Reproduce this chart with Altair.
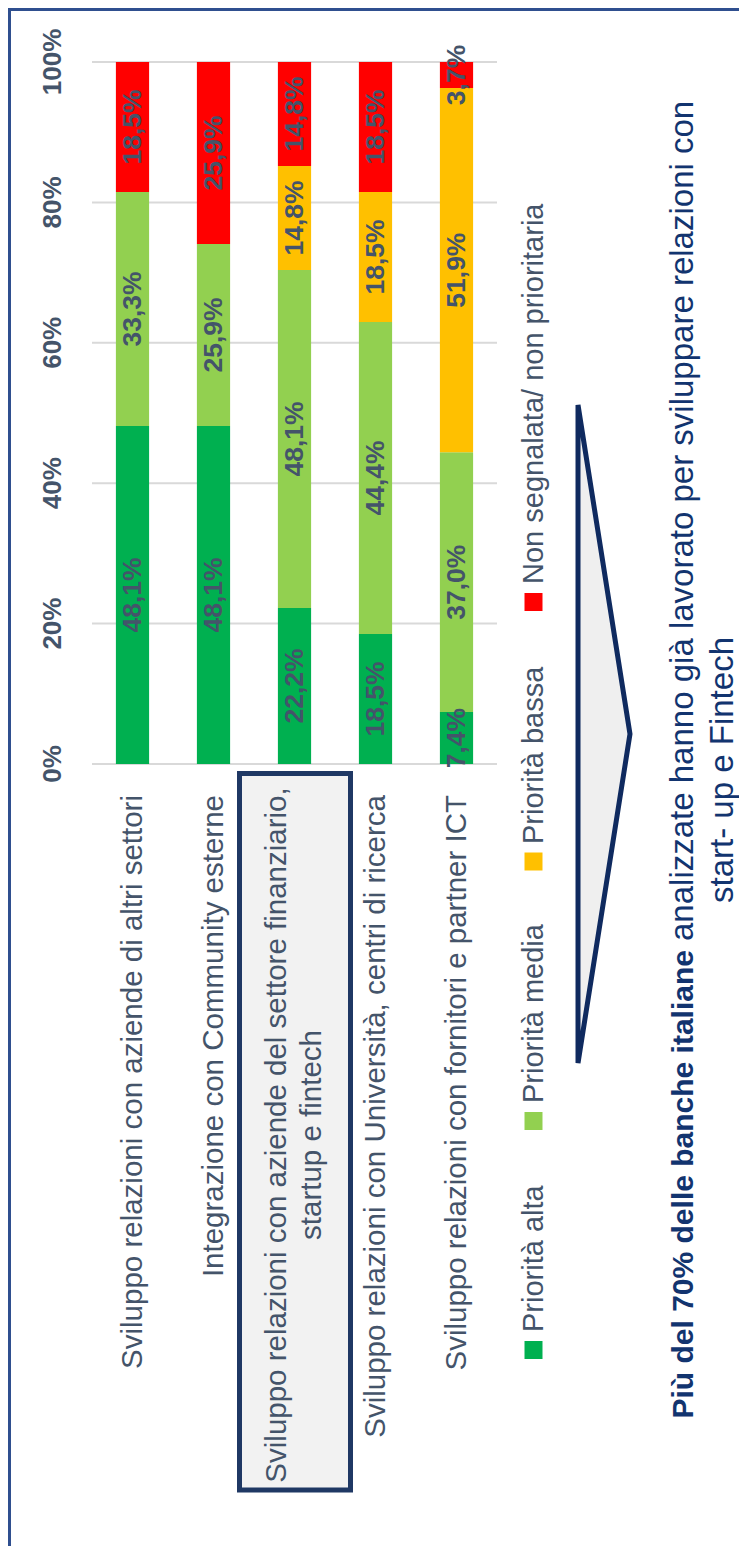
import altair as alt
import pandas as pd

# ---------------- data ----------------
cats = [
    "Sviluppo relazioni con aziende di altri settori",
    "Integrazione con Community esterne",
    "Sviluppo relazioni con aziende del settore finanziario, startup e fintech",
    "Sviluppo relazioni con Università, centri di ricerca",
    "Sviluppo relazioni con fornitori e partner ICT",
]
cat3_lines = ["Sviluppo relazioni con aziende del settore finanziario,", "startup e fintech"]
prios = ["Priorità alta", "Priorità media", "Priorità bassa", "Non segnalata/ non prioritaria"]
colors = ["#00B050", "#92D050", "#FFC000", "#FF0000"]
alta = [48.1, 48.1, 22.2, 18.5, 7.4]
media = [33.3, 25.9, 48.1, 44.4, 37.0]
bassa = [0.0, 0.0, 14.8, 18.5, 51.9]
non_segn = [18.5, 25.9, 14.8, 18.5, 3.7]
ticks = [0, 0.2, 0.4, 0.6, 0.8, 1.0]
title_bold = "Più del 70% delle banche italiane"
title_rest = "analizzate hanno già lavorato per sviluppare relazioni con"
title_line2 = "start- up e Fintech"

# ---------------- layout constants (svg pixels) ----------------
W, H = 731, 1538
FONT = "Liberation Sans"
TXT = "#44546A"
NAVY = "#12346F"
leg_sq_y = [1342, 1113, 853.5, 594]
leg_txt_y = [1324, 1095, 836, 576]

series = [alta, media, bassa, non_segn]
rows = []
for i, c in enumerate(cats):
    for j, p in enumerate(prios):
        rows.append({"cat": c, "prio": p, "ord": j, "v": series[j][i]})
df = pd.DataFrame(rows)

xs = alt.Scale(domain=cats, range=[84, 489], paddingInner=0.59, paddingOuter=0.295)
ys = alt.Scale(domain=[0, 1], range=[756, 54])
cs = alt.Scale(domain=prios, range=colors)
one = pd.DataFrame({"a": [0]})

X = alt.X("cat:N", scale=xs, axis=None)

# frame (left & top lines)
frame_l = alt.Chart(one).mark_rule(color="#2F4F8F", strokeWidth=3).encode(
    x=alt.value(1.5), y=alt.value(0), y2=alt.value(H))
frame_t = alt.Chart(one).mark_rule(color="#2F4F8F", strokeWidth=3).encode(
    x=alt.value(0), x2=alt.value(W), y=alt.value(1.5))

# gridlines
grid = alt.Chart(pd.DataFrame({"t": ticks})).mark_rule(color="#D9D9D9", strokeWidth=2).encode(
    y=alt.Y("t:Q", scale=ys, axis=None), x=alt.value(84), x2=alt.value(489))

tick_lbl = alt.Chart(pd.DataFrame({"t": ticks})).transform_calculate(
    lbl="format(datum.t, '.0%')"
).mark_text(angle=270, align="center", baseline="middle", font=FONT, fontSize=26,
            fontWeight="bold", color=TXT).encode(
    y=alt.Y("t:Q", scale=ys, axis=None), x=alt.value(45), text="lbl:N")

stacked = alt.Chart(df).transform_stack(
    stack="v", groupby=["cat"], sort=[alt.SortField("ord", order="ascending")],
    offset="normalize", as_=["y0", "y1"])

bars = stacked.mark_bar().encode(
    x=X,
    y=alt.Y("y0:Q", scale=ys, axis=None),
    y2="y1:Q",
    color=alt.Color("prio:N", scale=cs, legend=None),
)

vals = stacked.transform_filter("datum.v > 0").transform_calculate(
    mid="(datum.y0 + datum.y1) / 2",
    lbl="replace(format(datum.v, '.1f'), '.', ',') + '%'",
).mark_text(angle=270, align="center", baseline="middle", font=FONT, fontSize=26.5,
            fontWeight="bold", color=TXT).encode(
    x=X, y=alt.Y("mid:Q", scale=ys, axis=None), text="lbl:N")

# category labels
single = pd.DataFrame({"cat": [c for k, c in enumerate(cats) if k != 2]})
cat_lbl = alt.Chart(single).mark_text(angle=270, align="right", baseline="middle", font=FONT,
                                      fontSize=29.5, color=TXT).encode(
    x=X, y=alt.value(787), text="cat:N")

box = alt.Chart(one).mark_rect(fill="#F2F2F2", stroke="#1F3864", strokeWidth=5).encode(
    x=alt.value(231.5), x2=alt.value(342.5), y=alt.value(765.5), y2=alt.value(1482))

c3a = alt.Chart(pd.DataFrame({"cat": [cats[2]], "t": [cat3_lines[0]]})).mark_text(
    angle=270, align="center", baseline="middle", font=FONT, fontSize=29.5, color=TXT, dy=-17.5
).encode(x=X, y=alt.value(1127), text="t:N")
c3b = alt.Chart(pd.DataFrame({"cat": [cats[2]], "t": [cat3_lines[1]]})).mark_text(
    angle=270, align="center", baseline="middle", font=FONT, fontSize=29.5, color=TXT, dy=17.5
).encode(x=X, y=alt.value(1127), text="t:N")

# legend
leg = pd.DataFrame({"prio": prios, "sy": leg_sq_y, "ty": leg_txt_y})
leg_sq = alt.Chart(leg).mark_square(size=324, opacity=1).encode(
    x=alt.value(525.5), y=alt.Y("sy:Q", scale=None, axis=None),
    color=alt.Color("prio:N", scale=cs, legend=None))
leg_tx = alt.Chart(leg).mark_text(angle=270, align="left", baseline="middle", font=FONT,
                                  fontSize=29, color=TXT).encode(
    x=alt.value(525.5), y=alt.Y("ty:Q", scale=None, axis=None), text="prio:N")

# arrow
arrow = alt.Chart(one).mark_point(
    shape="M -0.079 -1 L 0.079 0 L -0.079 1 Z", filled=True, fill="#EFEFEF", stroke="#0F2A5F",
    strokeWidth=5, opacity=1, fillOpacity=1, size=432964
).encode(x=alt.value(596), y=alt.value(726))

# conclusion text
t1 = alt.Chart(one).mark_text(angle=270, align="right", baseline="alphabetic", font=FONT,
                              fontSize=30, fontWeight="bold", color=NAVY, text=title_bold).encode(
    x=alt.value(685), y=alt.value(942))
t2 = alt.Chart(one).mark_text(angle=270, align="left", baseline="alphabetic", font=FONT,
                              fontSize=33, color=NAVY, text=title_rest).encode(
    x=alt.value(685), y=alt.value(933))
t3 = alt.Chart(one).mark_text(angle=270, align="center", baseline="alphabetic", font=FONT,
                              fontSize=33, color=NAVY, text=title_line2).encode(
    x=alt.value(725), y=alt.value(762))

chart = alt.layer(
    frame_l, frame_t, grid, tick_lbl, bars, vals, cat_lbl, box, c3a, c3b,
    arrow, leg_sq, leg_tx, t1, t2, t3
).properties(
    width=W, height=H, autosize=alt.AutoSizeParams(type="none"), padding=0,
    background="white"
).configure_view(stroke=None)

chart.save("out.html", embed_options={"renderer": "svg", "actions": False})
